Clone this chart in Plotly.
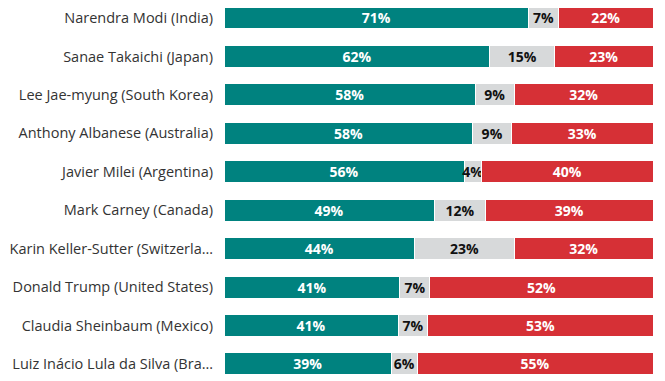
import plotly.graph_objects as go

leaders = [
    "Narendra Modi (India)",
    "Sanae Takaichi (Japan)",
    "Lee Jae-myung (South Korea)",
    "Anthony Albanese (Australia)",
    "Javier Milei (Argentina)",
    "Mark Carney (Canada)",
    "Karin Keller-Sutter (Switzerla…",
    "Donald Trump (United States)",
    "Claudia Sheinbaum (Mexico)",
    "Luiz Inácio Lula da Silva (Bra…",
]
approve = [71, 62, 58, 58, 56, 49, 44, 41, 41, 39]
unsure = [7, 15, 9, 9, 4, 12, 23, 7, 7, 6]
disapprove = [22, 23, 32, 33, 40, 39, 32, 52, 53, 55]

series = [
    ("Approve", approve, "#00827f", "white"),
    ("Unsure", unsure, "#d7d9da", "#111111"),
    ("Disapprove", disapprove, "#d63036", "white"),
]

fig = go.Figure()
for name, vals, color, tcolor in series:
    fig.add_trace(go.Bar(
        y=leaders, x=vals, name=name, orientation="h",
        marker=dict(color=color, line=dict(color="white", width=1)),
        text=vals, texttemplate="%{text}%", textposition="inside",
        insidetextanchor="middle", textangle=0,
        textfont=dict(family="Open Sans", size=14, color=tcolor, weight="bold"),
        constraintext="none", hoverinfo="skip",
    ))

fig.update_layout(
    barmode="stack", barnorm="percent", bargap=0.428,
    width=665, height=381,
    margin=dict(l=224, r=12, t=0, b=0, autoexpand=False),
    paper_bgcolor="white", plot_bgcolor="white",
    showlegend=False,
    font=dict(family="Open Sans", size=14, color="#333333"),
    uniformtext=dict(mode=False),
)
fig.update_xaxes(visible=False, range=[0, 100], fixedrange=True)
fig.update_yaxes(
    categoryorder="array", categoryarray=leaders,
    range=[9.444, -0.468], showgrid=False, zeroline=False, showline=False,
    ticks="", ticklabelstandoff=10, automargin=False,
    tickfont=dict(family="Open Sans", size=14.5, color="#333333"),
)

fig.write_html(
    "out.html",
    config={"displayModeBar": False, "staticPlot": True},
    post_script="document.body.style.margin='0';document.body.style.overflow='hidden';",
)
